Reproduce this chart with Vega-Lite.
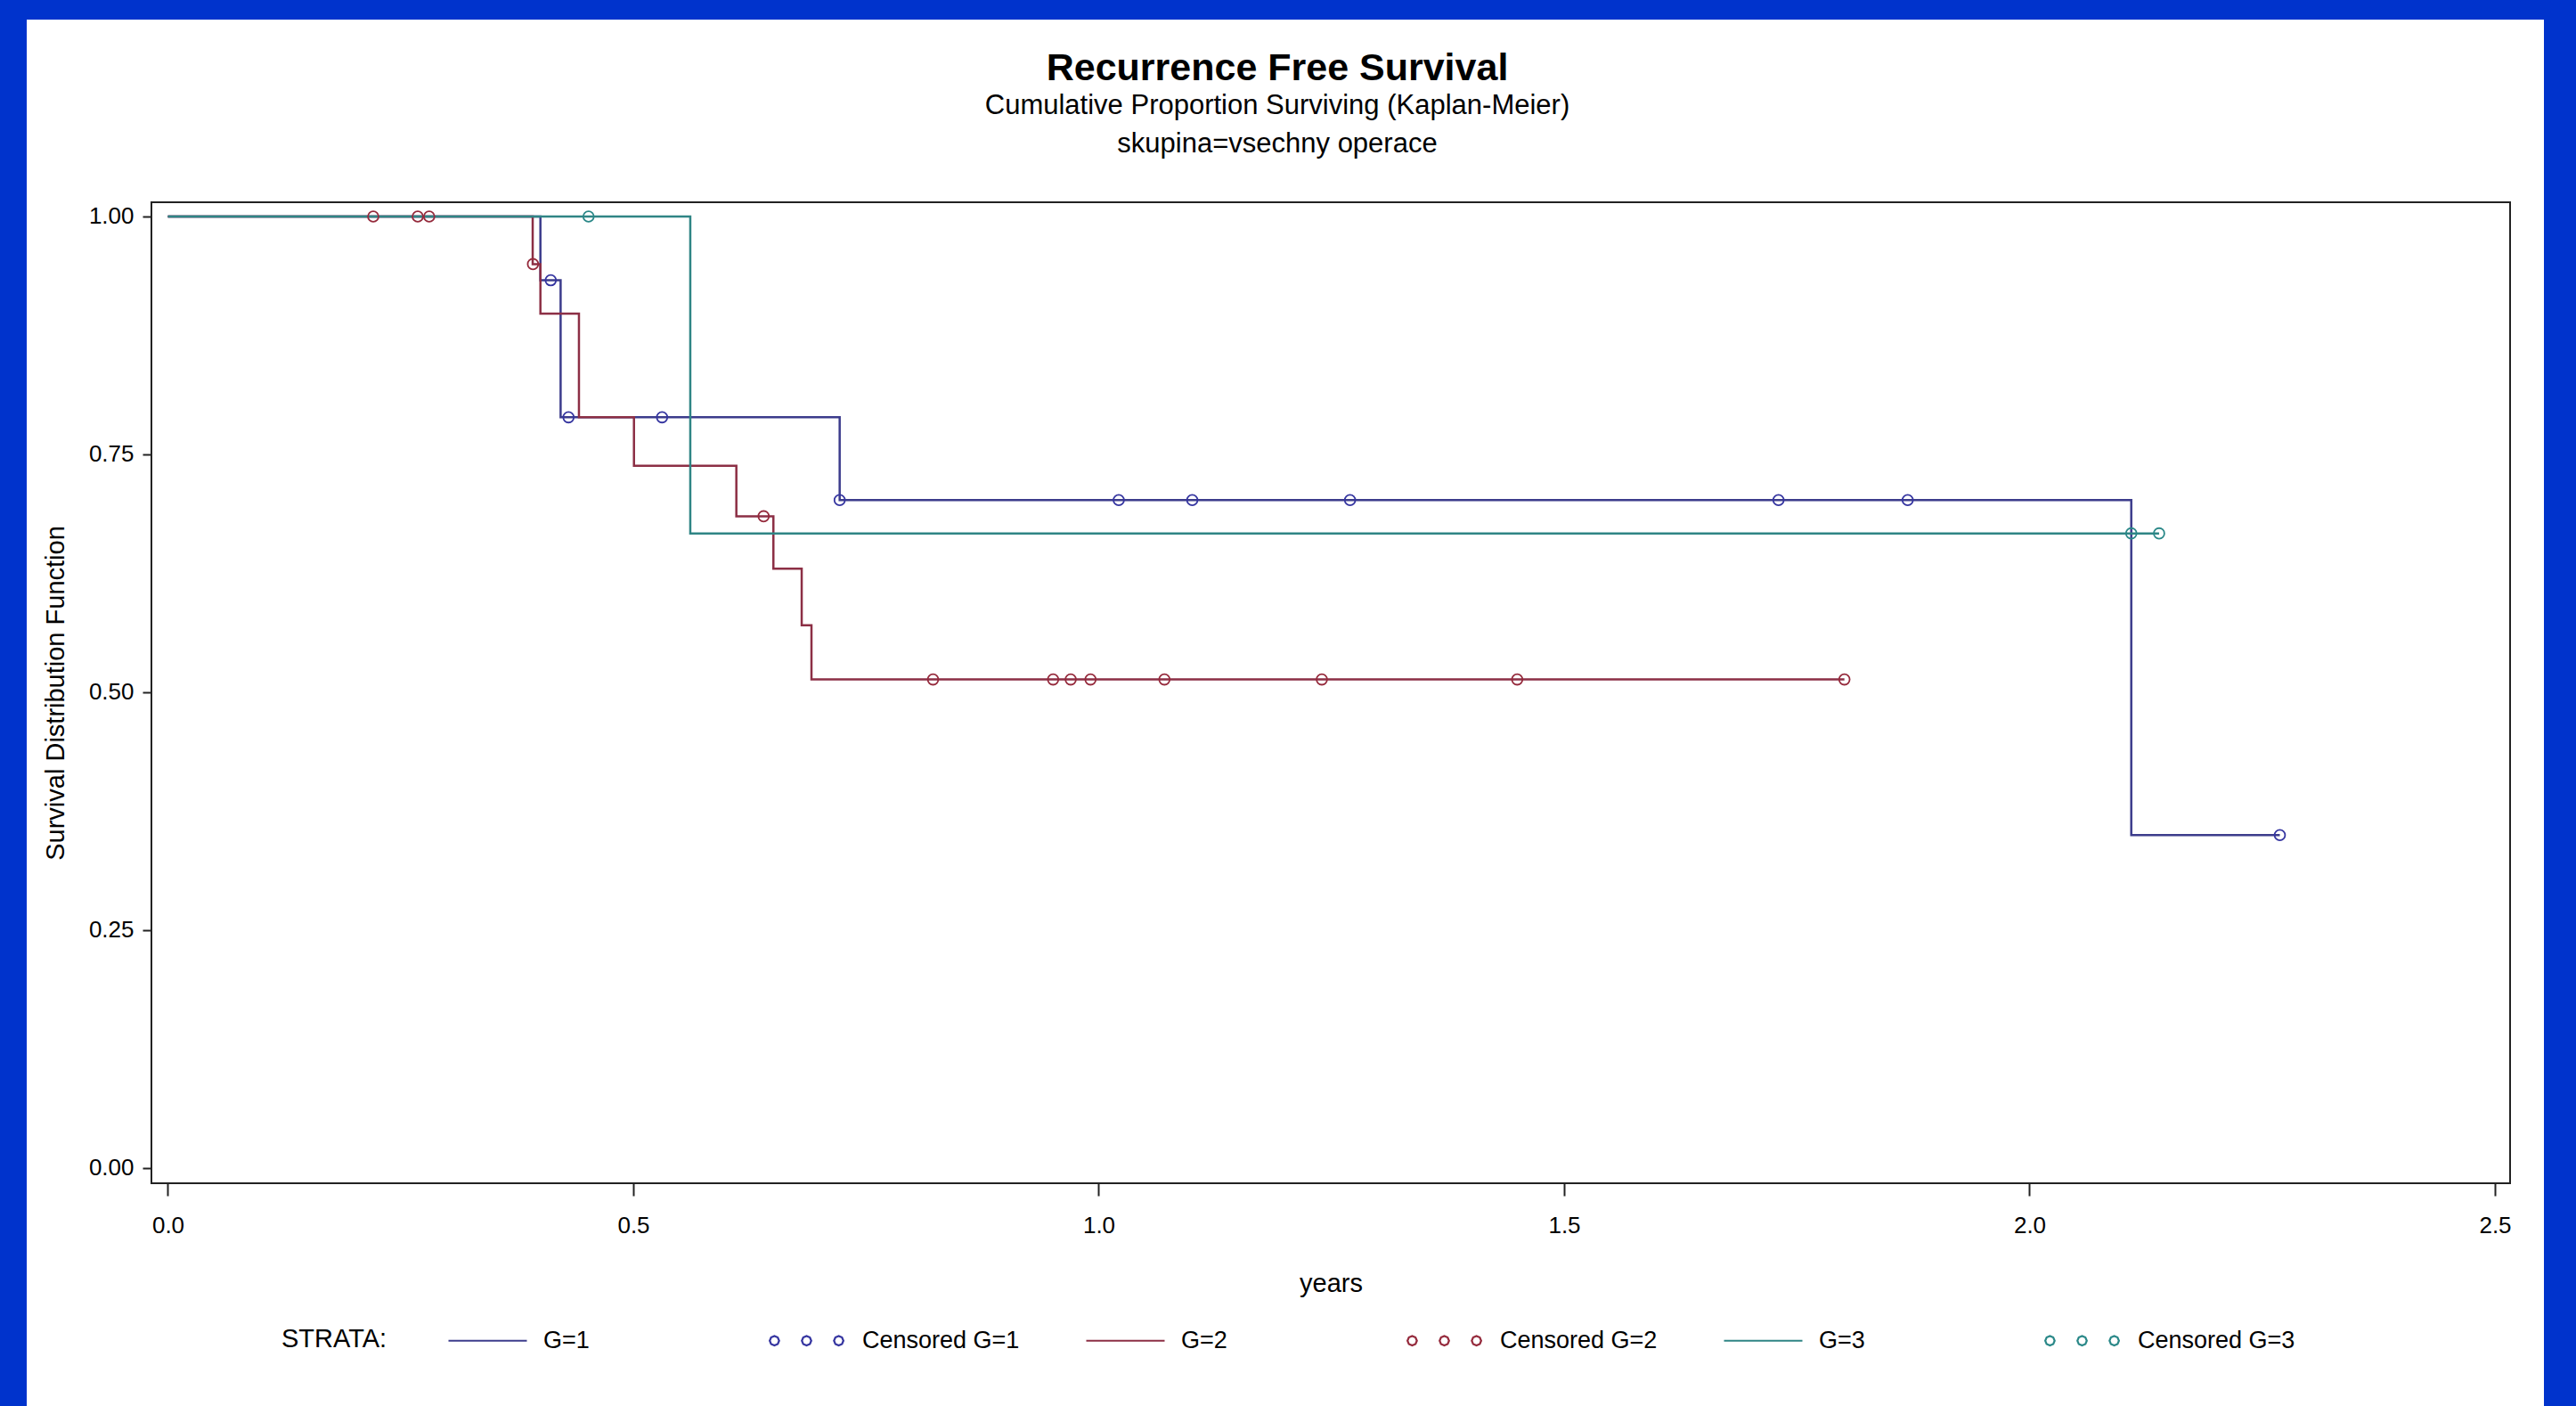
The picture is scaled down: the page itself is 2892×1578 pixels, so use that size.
{
  "$schema": "https://vega.github.io/schema/vega-lite/v6.json",
  "autosize": {"type": "none"},
  "padding": {"left": 170, "top": 227, "right": 74, "bottom": 250},
  "width": 2648,
  "height": 1101,
  "background": "#0033cc",
  "config": {
    "view": {"fill": "white", "stroke": null},
    "font": "Liberation Sans",
    "axis": {"grid": false, "labelFont": "Liberation Sans", "titleFont": "Liberation Sans", "labelColor": "black", "titleColor": "black", "tickColor": "#222222", "titleFontWeight": "normal"},
    "legend": {"zindex": 2}
  },
  "title": {
    "text": "Recurrence Free Survival",
    "subtitle": ["Cumulative Proportion Surviving (Kaplan-Meier)", "skupina=vsechny operace"],
    "anchor": "middle",
    "frame": "bounds",
    "font": "Liberation Sans",
    "fontSize": 43,
    "fontWeight": "bold",
    "color": "black",
    "subtitleFont": "Liberation Sans",
    "subtitleFontSize": 31,
    "subtitleFontWeight": "normal",
    "subtitleColor": "black",
    "subtitleLineHeight": 43,
    "subtitlePadding": 5,
    "offset": -155,
    "dx": -9,
    "zindex": 2
  },
  "datasets": {
    "curves": [
      {"series": "G=1", "t": 0, "s": 1},
      {"series": "G=1", "t": 0.4002, "s": 0.933},
      {"series": "G=1", "t": 0.4219, "s": 0.789},
      {"series": "G=1", "t": 0.7217, "s": 0.702},
      {"series": "G=1", "t": 2.1093, "s": 0.350},
      {"series": "G=1", "t": 2.2689, "s": 0.350},
      {"series": "G=2", "t": 0, "s": 1},
      {"series": "G=2", "t": 0.3919, "s": 0.950},
      {"series": "G=2", "t": 0.4002, "s": 0.898},
      {"series": "G=2", "t": 0.4416, "s": 0.789},
      {"series": "G=2", "t": 0.5007, "s": 0.738},
      {"series": "G=2", "t": 0.6107, "s": 0.685},
      {"series": "G=2", "t": 0.6505, "s": 0.630},
      {"series": "G=2", "t": 0.6809, "s": 0.5705},
      {"series": "G=2", "t": 0.6914, "s": 0.5135},
      {"series": "G=2", "t": 1.8011, "s": 0.5135},
      {"series": "G=3", "t": 0, "s": 1},
      {"series": "G=3", "t": 0.5612, "s": 0.667},
      {"series": "G=3", "t": 2.1392, "s": 0.667}
    ],
    "censored": [
      {"series": "Censored G=1", "t": 0.4113, "s": 0.933},
      {"series": "Censored G=1", "t": 0.4304, "s": 0.789},
      {"series": "Censored G=1", "t": 0.5309, "s": 0.789},
      {"series": "Censored G=1", "t": 0.7217, "s": 0.702},
      {"series": "Censored G=1", "t": 1.0215, "s": 0.702},
      {"series": "Censored G=1", "t": 1.1005, "s": 0.702},
      {"series": "Censored G=1", "t": 1.2700, "s": 0.702},
      {"series": "Censored G=1", "t": 1.7303, "s": 0.702},
      {"series": "Censored G=1", "t": 1.8691, "s": 0.702},
      {"series": "Censored G=1", "t": 2.2689, "s": 0.350},
      {"series": "Censored G=2", "t": 0.2206, "s": 1},
      {"series": "Censored G=2", "t": 0.2684, "s": 1},
      {"series": "Censored G=2", "t": 0.2807, "s": 1},
      {"series": "Censored G=2", "t": 0.3922, "s": 0.950},
      {"series": "Censored G=2", "t": 0.6400, "s": 0.685},
      {"series": "Censored G=2", "t": 0.8220, "s": 0.5135},
      {"series": "Censored G=2", "t": 0.9510, "s": 0.5135},
      {"series": "Censored G=2", "t": 0.9699, "s": 0.5135},
      {"series": "Censored G=2", "t": 0.9912, "s": 0.5135},
      {"series": "Censored G=2", "t": 1.0706, "s": 0.5135},
      {"series": "Censored G=2", "t": 1.2397, "s": 0.5135},
      {"series": "Censored G=2", "t": 1.4496, "s": 0.5135},
      {"series": "Censored G=2", "t": 1.8011, "s": 0.5135},
      {"series": "Censored G=3", "t": 0.4519, "s": 1},
      {"series": "Censored G=3", "t": 2.1093, "s": 0.667},
      {"series": "Censored G=3", "t": 2.1392, "s": 0.667}
    ]
  },
  "layer": [
    {
      "data": {"values": [{}]},
      "mark": {"type": "rect", "fill": "white", "strokeWidth": 0},
      "encoding": {
        "x": {"datum": -0.151675, "type": "quantitative", "scale": {"domain": [-0.017703, 2.516268], "nice": false, "zero": false},
          "axis": {"orient": "bottom", "zindex": 2, "domain": false, "labelFlush": false, "labelOverlap": false, "values": [0, 0.5, 1, 1.5, 2, 2.5], "format": ".1f", "title": "years", "tickSize": 14, "tickWidth": 2, "labelFontSize": 26, "labelPadding": 20, "titleFontSize": 29, "titlePadding": 38}},
        "x2": {"datum": 2.552632},
        "y": {"datum": -0.25, "type": "quantitative", "scale": {"domain": [-0.015918, 1.014981], "nice": false, "zero": false},
          "axis": {"orient": "left", "zindex": 2, "domain": false, "labelFlush": false, "labelOverlap": false, "values": [0, 0.25, 0.5, 0.75, 1], "format": ".2f", "title": "Survival Distribution Function", "tickSize": 10, "tickWidth": 2, "labelFontSize": 26, "labelPadding": 10, "titleFontSize": 29, "titlePadding": 22}},
        "y2": {"datum": 1.206929}
      }
    },
    {
      "data": {"values": [{}]},
      "mark": {"type": "rect", "fill": "transparent", "stroke": "#222222", "strokeWidth": 2},
      "encoding": {
        "x": {"datum": -0.017703, "type": "quantitative", "scale": {"domain": [-0.017703, 2.516268], "nice": false, "zero": false},
          "axis": {"orient": "bottom", "zindex": 2, "domain": false, "labelFlush": false, "labelOverlap": false, "values": [0, 0.5, 1, 1.5, 2, 2.5], "format": ".1f", "title": "years", "tickSize": 14, "tickWidth": 2, "labelFontSize": 26, "labelPadding": 20, "titleFontSize": 29, "titlePadding": 38}},
        "x2": {"datum": 2.516268},
        "y": {"datum": -0.015918, "type": "quantitative", "scale": {"domain": [-0.015918, 1.014981], "nice": false, "zero": false},
          "axis": {"orient": "left", "zindex": 2, "domain": false, "labelFlush": false, "labelOverlap": false, "values": [0, 0.25, 0.5, 0.75, 1], "format": ".2f", "title": "Survival Distribution Function", "tickSize": 10, "tickWidth": 2, "labelFontSize": 26, "labelPadding": 10, "titleFontSize": 29, "titlePadding": 22}},
        "y2": {"datum": 1.014981}
      }
    },
    {
      "data": {"name": "curves"},
      "mark": {"type": "line", "interpolate": "step-after", "strokeWidth": 2.5},
      "encoding": {
        "x": {
          "field": "t", "type": "quantitative",
          "scale": {"domain": [-0.017703, 2.516268], "nice": false, "zero": false},
          "axis": {"orient": "bottom", "zindex": 2, "domain": false, "labelFlush": false, "labelOverlap": false, "values": [0, 0.5, 1, 1.5, 2, 2.5], "format": ".1f", "title": "years", "tickSize": 14, "tickWidth": 2, "labelFontSize": 26, "labelPadding": 20, "titleFontSize": 29, "titlePadding": 38}
        },
        "y": {
          "field": "s", "type": "quantitative",
          "scale": {"domain": [-0.015918, 1.014981], "nice": false, "zero": false},
          "axis": {"orient": "left", "zindex": 2, "domain": false, "labelFlush": false, "labelOverlap": false, "values": [0, 0.25, 0.5, 0.75, 1], "format": ".2f", "title": "Survival Distribution Function", "tickSize": 10, "tickWidth": 2, "labelFontSize": 26, "labelPadding": 10, "titleFontSize": 29, "titlePadding": 22}
        },
        "color": {
          "field": "series", "type": "nominal",
          "scale": {"domain": ["G=1", "Censored G=1", "G=2", "Censored G=2", "G=3", "Censored G=3"], "range": ["#3c3c8c", "#3535a0", "#8c2f45", "#952a3c", "#2f8585", "#2a8888"]}
        }
      }
    },
    {
      "data": {"name": "censored"},
      "mark": {"type": "point", "shape": "circle", "filled": false, "size": 140, "strokeWidth": 1.8, "opacity": 1},
      "encoding": {
        "x": {"field": "t", "type": "quantitative", "scale": {"domain": [-0.017703, 2.516268], "nice": false, "zero": false},
          "axis": {"orient": "bottom", "zindex": 2, "domain": false, "labelFlush": false, "labelOverlap": false, "values": [0, 0.5, 1, 1.5, 2, 2.5], "format": ".1f", "title": "years", "tickSize": 14, "tickWidth": 2, "labelFontSize": 26, "labelPadding": 20, "titleFontSize": 29, "titlePadding": 38}},
        "y": {"field": "s", "type": "quantitative", "scale": {"domain": [-0.015918, 1.014981], "nice": false, "zero": false},
          "axis": {"orient": "left", "zindex": 2, "domain": false, "labelFlush": false, "labelOverlap": false, "values": [0, 0.25, 0.5, 0.75, 1], "format": ".2f", "title": "Survival Distribution Function", "tickSize": 10, "tickWidth": 2, "labelFontSize": 26, "labelPadding": 10, "titleFontSize": 29, "titlePadding": 22}},
        "color": {
          "field": "series", "type": "nominal",
          "scale": {"domain": ["G=1", "Censored G=1", "G=2", "Censored G=2", "G=3", "Censored G=3"], "range": ["#3c3c8c", "#3535a0", "#8c2f45", "#952a3c", "#2f8585", "#2a8888"]}
        }
      }
    },
    {
      "data": {"name": "censored"},
      "mark": {"type": "point", "filled": false, "opacity": 0},
      "encoding": {
        "x": {"field": "t", "type": "quantitative", "scale": {"domain": [-0.017703, 2.516268], "nice": false, "zero": false},
          "axis": {"orient": "bottom", "zindex": 2, "domain": false, "labelFlush": false, "labelOverlap": false, "values": [0, 0.5, 1, 1.5, 2, 2.5], "format": ".1f", "title": "years", "tickSize": 14, "tickWidth": 2, "labelFontSize": 26, "labelPadding": 20, "titleFontSize": 29, "titlePadding": 38}},
        "y": {"field": "s", "type": "quantitative", "scale": {"domain": [-0.015918, 1.014981], "nice": false, "zero": false},
          "axis": {"orient": "left", "zindex": 2, "domain": false, "labelFlush": false, "labelOverlap": false, "values": [0, 0.25, 0.5, 0.75, 1], "format": ".2f", "title": "Survival Distribution Function", "tickSize": 10, "tickWidth": 2, "labelFontSize": 26, "labelPadding": 10, "titleFontSize": 29, "titlePadding": 22}},
        "color": {
          "field": "series", "type": "nominal",
          "scale": {"domain": ["G=1", "Censored G=1", "G=2", "Censored G=2", "G=3", "Censored G=3"], "range": ["#3c3c8c", "#3535a0", "#8c2f45", "#952a3c", "#2f8585", "#2a8888"]},
          "legend": {
            "title": "STRATA:",
            "orient": "none",
            "legendX": 146,
            "legendY": 1232,
            "direction": "horizontal",
            "columns": 6,
            "gridAlign": "all",
            "columnPadding": 70,
            "padding": 0,
            "titleOrient": "left",
            "titleAnchor": "middle",
            "titleBaseline": "line-top",
            "titleLineHeight": 32,
            "titlePadding": 67,
            "titleFont": "Liberation Sans",
            "titleFontSize": 29,
            "titleFontWeight": "normal",
            "titleColor": "black",
            "labelFont": "Liberation Sans",
            "labelFontSize": 27,
            "labelColor": "black",
            "labelLimit": 500,
            "labelOffset": 17,
            "symbolSize": 7744,
            "symbolStrokeWidth": 2.2,
            "symbolOpacity": 1
          }
        },
        "shape": {
          "field": "series", "type": "nominal",
          "scale": {"domain": ["G=1", "Censored G=1", "G=2", "Censored G=2", "G=3", "Censored G=3"], "range": ["stroke", "M-0.7,0L-0.7351,0.0849L-0.82,0.12L-0.9049,0.0849L-0.94,0L-0.9049,-0.0849L-0.82,-0.12L-0.7351,-0.0849ZM0.12,0L0.0849,0.0849L0,0.12L-0.0849,0.0849L-0.12,0L-0.0849,-0.0849L0,-0.12L0.0849,-0.0849ZM0.94,0L0.9049,0.0849L0.82,0.12L0.7351,0.0849L0.7,0L0.7351,-0.0849L0.82,-0.12L0.9049,-0.0849Z", "stroke", "M-0.7,0L-0.7351,0.0849L-0.82,0.12L-0.9049,0.0849L-0.94,0L-0.9049,-0.0849L-0.82,-0.12L-0.7351,-0.0849ZM0.12,0L0.0849,0.0849L0,0.12L-0.0849,0.0849L-0.12,0L-0.0849,-0.0849L0,-0.12L0.0849,-0.0849ZM0.94,0L0.9049,0.0849L0.82,0.12L0.7351,0.0849L0.7,0L0.7351,-0.0849L0.82,-0.12L0.9049,-0.0849Z", "stroke", "M-0.7,0L-0.7351,0.0849L-0.82,0.12L-0.9049,0.0849L-0.94,0L-0.9049,-0.0849L-0.82,-0.12L-0.7351,-0.0849ZM0.12,0L0.0849,0.0849L0,0.12L-0.0849,0.0849L-0.12,0L-0.0849,-0.0849L0,-0.12L0.0849,-0.0849ZM0.94,0L0.9049,0.0849L0.82,0.12L0.7351,0.0849L0.7,0L0.7351,-0.0849L0.82,-0.12L0.9049,-0.0849Z"]},
          "legend": {
            "title": "STRATA:",
            "orient": "none",
            "legendX": 146,
            "legendY": 1232,
            "direction": "horizontal",
            "columns": 6,
            "gridAlign": "all",
            "columnPadding": 70,
            "padding": 0,
            "titleOrient": "left",
            "titleAnchor": "middle",
            "titleBaseline": "line-top",
            "titleLineHeight": 32,
            "titlePadding": 67,
            "titleFont": "Liberation Sans",
            "titleFontSize": 29,
            "titleFontWeight": "normal",
            "titleColor": "black",
            "labelFont": "Liberation Sans",
            "labelFontSize": 27,
            "labelColor": "black",
            "labelLimit": 500,
            "labelOffset": 17,
            "symbolSize": 7744,
            "symbolStrokeWidth": 2.2,
            "symbolOpacity": 1
          }
        }
      }
    }
  ]
}
